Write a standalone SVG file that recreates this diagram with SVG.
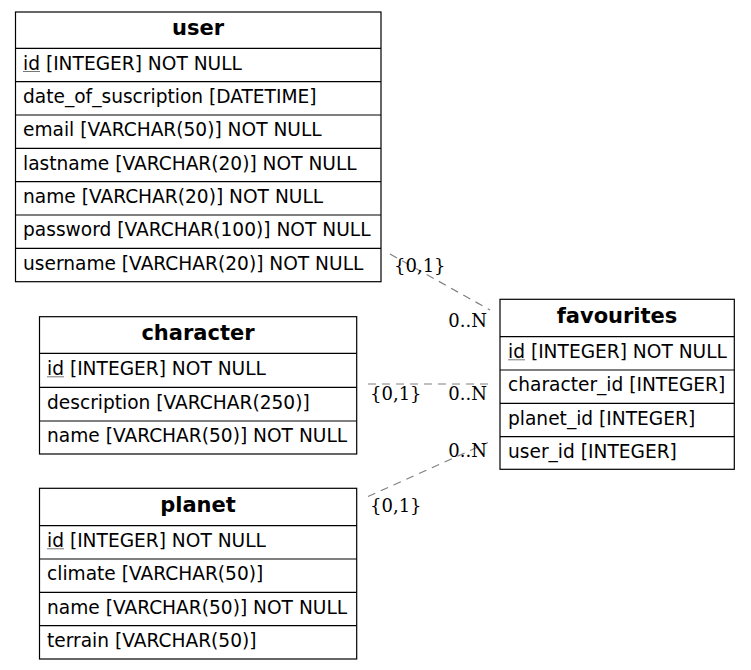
<svg xmlns="http://www.w3.org/2000/svg" width="751" height="670" viewBox="0 0 751 670">
<style>
.box{fill:#fff;stroke:#000;stroke-width:1.2}
.sep{stroke:#000;stroke-width:1.2}
.hd{font-family:"DejaVu Sans",sans-serif;font-weight:bold;font-size:21px;text-anchor:middle;fill:#000}
.at{font-family:"DejaVu Sans",sans-serif;font-size:18.6px;fill:#000}
.ul{stroke:#777;stroke-width:1}
.edge{fill:none;stroke:#808080;stroke-width:1.2;stroke-dasharray:8,6}
.lb{font-family:"DejaVu Serif",serif;font-size:18px;fill:#000}
.end{text-anchor:end}
</style>
<rect width="751" height="670" fill="#fff"/>
<g id="user">
<rect class="box" x="15.5" y="12" width="365.5" height="269.7"/>
<line class="sep" x1="15.5" y1="48.3" x2="381" y2="48.3"/>
<line class="sep" x1="15.5" y1="81.7" x2="381" y2="81.7"/>
<line class="sep" x1="15.5" y1="115" x2="381" y2="115"/>
<line class="sep" x1="15.5" y1="148.3" x2="381" y2="148.3"/>
<line class="sep" x1="15.5" y1="181.7" x2="381" y2="181.7"/>
<line class="sep" x1="15.5" y1="215" x2="381" y2="215"/>
<line class="sep" x1="15.5" y1="248.3" x2="381" y2="248.3"/>
<text class="hd" x="198" y="35">user</text>
<text class="at" x="23" y="69.5">id [INTEGER] NOT NULL</text>
<line class="ul" x1="23" y1="71.5" x2="40" y2="71.5"/>
<text class="at" x="23" y="102.8">date_of_suscription [DATETIME]</text>
<text class="at" x="23" y="136.1">email [VARCHAR(50)] NOT NULL</text>
<text class="at" x="23" y="169.5">lastname [VARCHAR(20)] NOT NULL</text>
<text class="at" x="23" y="202.8">name [VARCHAR(20)] NOT NULL</text>
<text class="at" x="23" y="236.1">password [VARCHAR(100)] NOT NULL</text>
<text class="at" x="23" y="269.5">username [VARCHAR(20)] NOT NULL</text>
</g>
<g id="character">
<rect class="box" x="39.5" y="316.7" width="317.2" height="137.3"/>
<line class="sep" x1="39.5" y1="353.3" x2="356.7" y2="353.3"/>
<line class="sep" x1="39.5" y1="387.3" x2="356.7" y2="387.3"/>
<line class="sep" x1="39.5" y1="421" x2="356.7" y2="421"/>
<text class="hd" x="198" y="340">character</text>
<text class="at" x="47" y="374.8">id [INTEGER] NOT NULL</text>
<line class="ul" x1="47" y1="376.8" x2="64" y2="376.8"/>
<text class="at" x="47" y="408.6">description [VARCHAR(250)]</text>
<text class="at" x="47" y="442.1">name [VARCHAR(50)] NOT NULL</text>
</g>
<g id="planet">
<rect class="box" x="39.5" y="488.3" width="317.2" height="170.7"/>
<line class="sep" x1="39.5" y1="525.7" x2="356.7" y2="525.7"/>
<line class="sep" x1="39.5" y1="559" x2="356.7" y2="559"/>
<line class="sep" x1="39.5" y1="592.3" x2="356.7" y2="592.3"/>
<line class="sep" x1="39.5" y1="625.7" x2="356.7" y2="625.7"/>
<text class="hd" x="198" y="512">planet</text>
<text class="at" x="47" y="546.8">id [INTEGER] NOT NULL</text>
<line class="ul" x1="47" y1="548.8" x2="64" y2="548.8"/>
<text class="at" x="47" y="580.1">climate [VARCHAR(50)]</text>
<text class="at" x="47" y="613.5">name [VARCHAR(50)] NOT NULL</text>
<text class="at" x="47" y="646.8">terrain [VARCHAR(50)]</text>
</g>
<g id="favourites">
<rect class="box" x="500" y="299.3" width="234.3" height="170"/>
<line class="sep" x1="500" y1="336.7" x2="734.3" y2="336.7"/>
<line class="sep" x1="500" y1="370" x2="734.3" y2="370"/>
<line class="sep" x1="500" y1="403.3" x2="734.3" y2="403.3"/>
<line class="sep" x1="500" y1="436.7" x2="734.3" y2="436.7"/>
<text class="hd" x="617" y="322.5">favourites</text>
<text class="at" x="508" y="357.8">id [INTEGER] NOT NULL</text>
<line class="ul" x1="508" y1="359.8" x2="525" y2="359.8"/>
<text class="at" x="508" y="391.1">character_id [INTEGER]</text>
<text class="at" x="508" y="424.5">planet_id [INTEGER]</text>
<text class="at" x="508" y="457.8">user_id [INTEGER]</text>
</g>
<g id="connectors">
<line class="edge" x1="390" y1="254" x2="490" y2="310"/>
<text class="lb" x="394" y="272">{0,1}</text>
<text class="lb end" x="487" y="327">0..N</text>
<line class="edge" x1="368" y1="384" x2="490" y2="384"/>
<text class="lb" x="370" y="400">{0,1}</text>
<text class="lb end" x="487" y="400">0..N</text>
<line class="edge" x1="368" y1="496.5" x2="488" y2="442.5"/>
<text class="lb end" x="487" y="457">0..N</text>
<text class="lb" x="370" y="512">{0,1}</text>
</g>
</svg>
